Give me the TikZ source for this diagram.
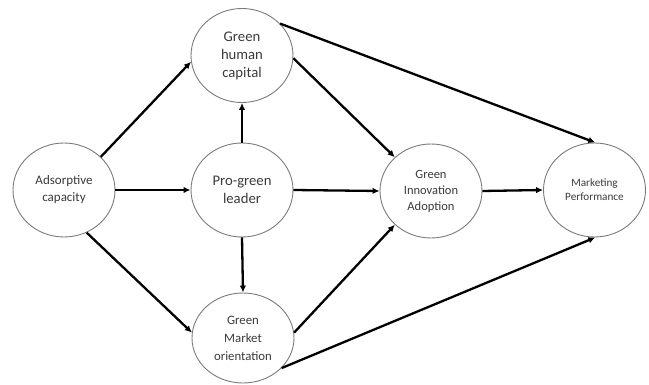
\documentclass[tikz,border=0pt]{standalone}
\usepackage{fontspec}
\setmainfont{Carlito}
\usetikzlibrary{shapes.geometric,arrows.meta}
\definecolor{txt}{HTML}{3A3A3A}
\definecolor{rim}{HTML}{7A7A7A}
\tikzset{
  bub/.style={ellipse,draw=rim,line width=0.9pt,minimum width=102pt,minimum height=94pt,inner sep=0pt,align=center,text=txt},
  link/.style={line width=2.3pt,-{Latex[length=7pt,width=6.5pt]}},
}
\begin{document}
\begin{tikzpicture}[x=1pt,y=-1pt]
\useasboundingbox (0,0) rectangle (649,385);
\node[bub,font=\fontsize{13}{17}\selectfont] (ads) at (64,190) {Adsorptive\\capacity};
\node[bub,font=\fontsize{14.7}{18}\selectfont] (ghc) at (242,55.5) {Green\\human\\capital};
\node[bub,font=\fontsize{14.7}{17.5}\selectfont] (pgl) at (242,190) {Pro-green\\leader};
\node[bub,font=\fontsize{12.8}{18}\selectfont,minimum height=90pt] (gmo) at (243,338) {Green\\Market\\orientation};
\node[bub,font=\fontsize{12.5}{16}\selectfont] (gia) at (431,191) {Green\\Innovation\\Adoption};
\node[bub,font=\fontsize{11.2}{14}\selectfont] (mp) at (594.5,190) {Marketing\\Performance};
\draw[link] (ads.42) -- (ghc.187);
\draw[link] (ads.0) -- (pgl.180);
\draw[link] (ads.-62) -- (gmo.174);
\draw[link] (pgl.90) -- (ghc.270);
\draw[link] (pgl.270) -- (gmo.90);
\draw[link] (pgl.0) -- (gia.180);
\draw[link] (ghc.-3) -- (gia.137);
\draw[link] (gmo.6) -- (gia.223);
\draw[link] (ghc.40) -- (mp.89);
\draw[link] (gmo.-38) -- (mp.271);
\draw[link] (gia.0) -- (mp.180);
\end{tikzpicture}
\end{document}
